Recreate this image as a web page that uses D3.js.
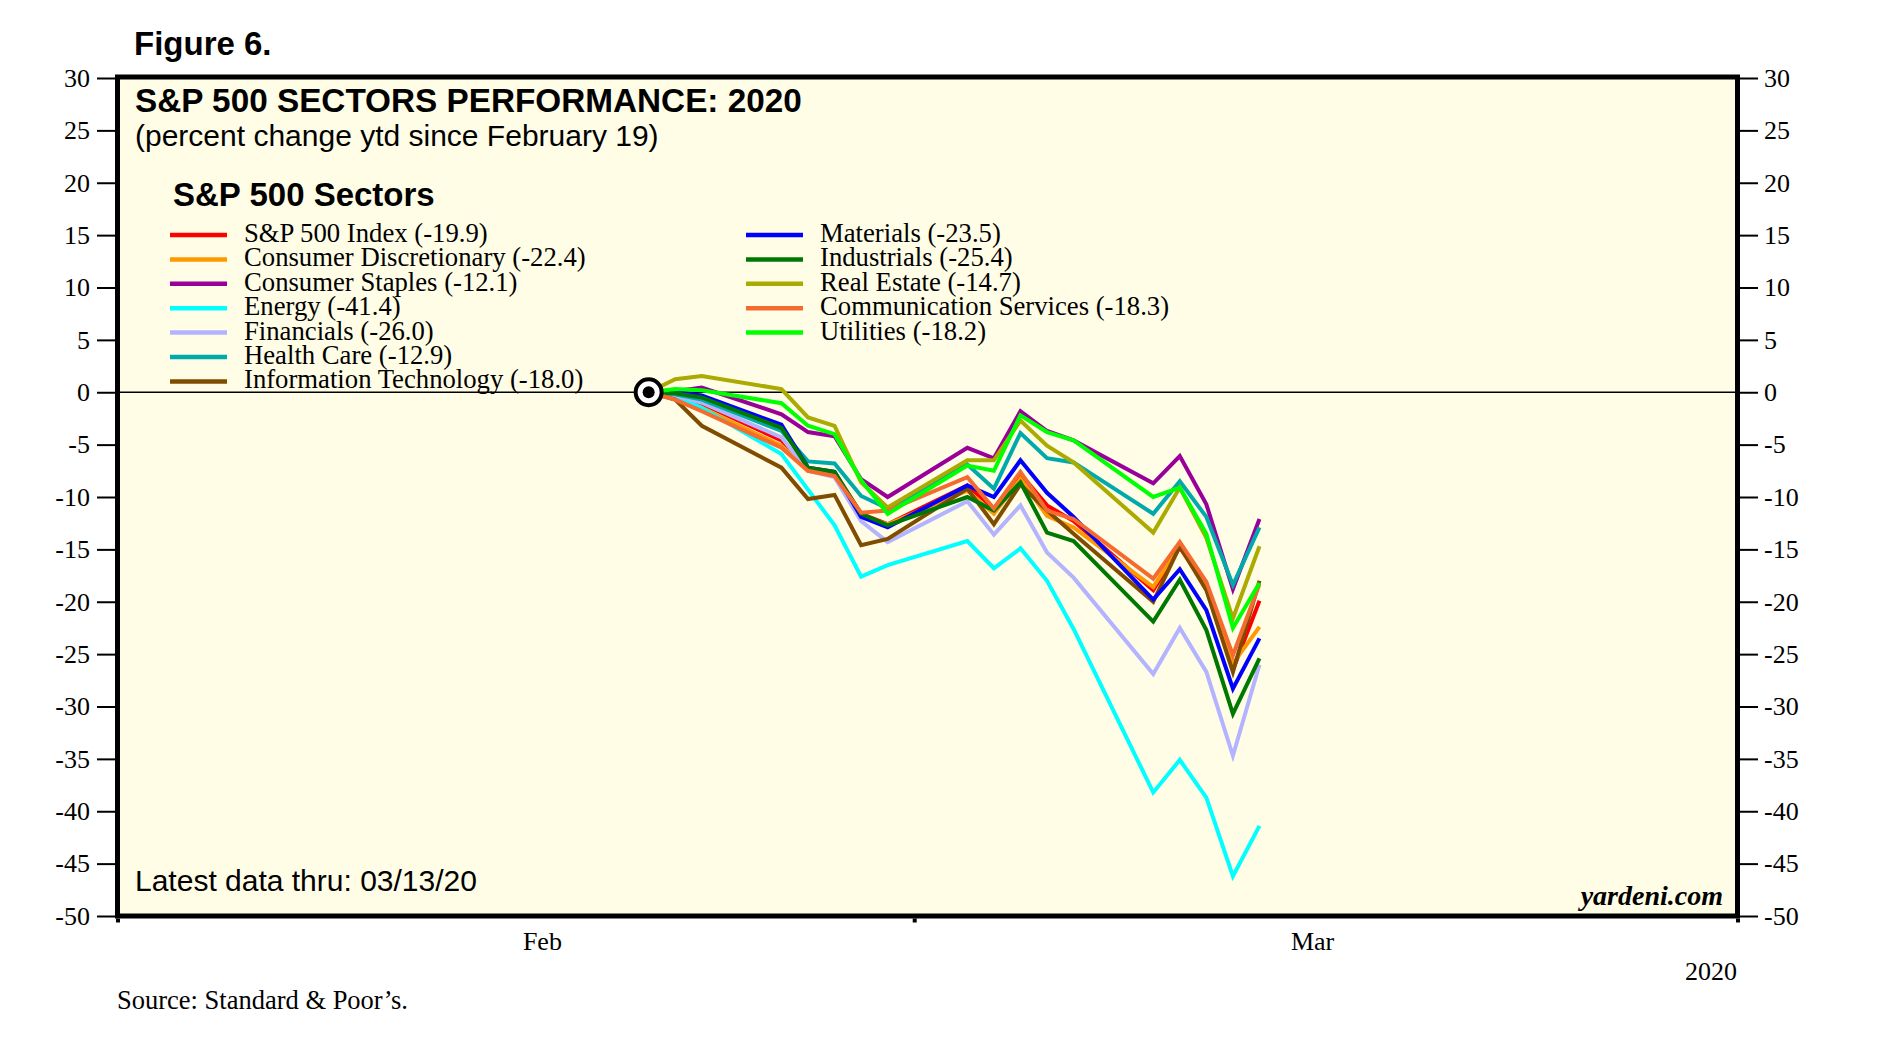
<!DOCTYPE html>
<html>
  <head>
    <meta charset="utf-8">
    <title>S&amp;P 500 Sectors Performance: 2020</title>
    <style>
      body, html{
        margin: 0;
        background: #fff;
      }
      .sans{ font-family: "Liberation Sans", Arial, sans-serif; }
      .serif{ font-family: "Liberation Serif", "Times New Roman", serif; }
    </style>
  </head>
  <body>
    <svg id="chart" width="1886" height="1061"></svg>
    <script src="https://cdn.jsdelivr.net/npm/d3@7"></script>
    <script>

var dates = ['2020-02-19','2020-02-20','2020-02-21','2020-02-24','2020-02-25','2020-02-26',
  '2020-02-27','2020-02-28','2020-03-02','2020-03-03','2020-03-04','2020-03-05','2020-03-06',
  '2020-03-09','2020-03-10','2020-03-11','2020-03-12','2020-03-13']

var sectors = ['S&P 500 Index', 'Consumer Discretionary', 'Consumer Staples', 'Energy',
  'Financials', 'Health Care', 'Information Technology', 'Materials', 'Industrials',
  'Real Estate', 'Communication Services', 'Utilities']

var colors = ['#ff0000', '#ff9900', '#990099', '#00ffff', '#b3b3ff', '#00aaaa',
  '#7f4c00', '#0000ff', '#007700', '#aaaa00', '#f56a2e', '#00ff00']

var spx         = [0, -0.3, -1.1, -4.6, -7.4, -7.7, -11.6, -12.6, -8.9, -11.1, -7.8, -10.8, -12.3, -18.9, -14.8, -18.6, -26.5, -19.9]
var discretion  = [0, -0.6, -1.5, -5.1, -7.5, -7.8, -11.9, -12.6, -9.4, -11.6, -8.3, -11.8, -12.9, -18.6, -14.6, -18.6, -25.9, -22.4]
var staples     = [0, 0.1, 0.45, -2.1, -3.8, -4.2, -8.3, -10.0, -5.3, -6.3, -1.8, -3.7, -4.6, -8.7, -6.1, -10.7, -18.8, -12.1]
var energy      = [0, -0.3, -1.5, -5.9, -9.3, -12.7, -17.6, -16.5, -14.2, -16.8, -14.9, -18.0, -22.6, -38.2, -35.1, -38.7, -46.2, -41.4]
var financials  = [0, -0.3, -1.0, -4.3, -7.5, -8.1, -12.3, -14.3, -10.4, -13.6, -10.8, -15.3, -17.7, -26.9, -22.5, -26.7, -34.7, -26.0]
var health      = [0, -0.2, -0.7, -3.7, -6.6, -6.8, -9.9, -11.1, -6.9, -9.2, -3.9, -6.3, -6.7, -11.6, -8.5, -11.9, -18.4, -12.9]
var tech        = [0, -0.7, -3.2, -7.2, -10.2, -9.8, -14.6, -14.0, -9.2, -12.6, -8.8, -11.3, -13.5, -20.0, -14.7, -18.9, -26.7, -18.0]
var materials   = [0, 0.0, -0.3, -3.1, -7.2, -7.6, -11.9, -12.9, -8.9, -10.0, -6.5, -9.6, -11.9, -19.8, -16.9, -20.8, -28.3, -23.5]
var industrials = [0, -0.1, -0.5, -3.4, -7.2, -7.6, -11.6, -12.7, -10.0, -11.3, -8.6, -13.4, -14.2, -21.9, -17.9, -22.7, -30.7, -25.4]
var realestate  = [0, 1.24, 1.56, 0.3, -2.4, -3.2, -8.6, -11.0, -6.5, -6.5, -2.7, -5.1, -6.7, -13.4, -9.1, -13.9, -21.6, -14.7]
var commserv    = [0, -0.7, -1.8, -5.3, -7.5, -8.0, -11.5, -11.3, -8.1, -11.1, -7.6, -11.3, -12.1, -17.8, -14.3, -18.1, -25.1, -18.3]
var utilities   = [0, 0.3, 0.2, -1.05, -3.2, -4.0, -8.4, -11.6, -7.0, -7.5, -2.2, -3.8, -4.6, -10.0, -9.1, -13.5, -22.5, -18.2]

var series = [spx, discretion, staples, energy, financials, health, tech, materials,
  industrials, realestate, commserv, utilities]

var yTicks = d3.range(-50, 31, 5)
var monthEdges = ['2020-01-30', '2020-02-29', '2020-03-31']
var monthLabels = [['2020-02-15', 'Feb'], ['2020-03-15', 'Mar']]

var parse = d3.timeParse('%Y-%m-%d')
var svg = d3.select('#chart')

// plot box (window.top is reserved, so use own names)
var plotL = 117.5, plotR = 1737.5, plotT = 78, plotB = 916

var x = d3.scaleTime()
  .domain([parse(monthEdges[0]), parse(monthEdges[2])])
  .range([plotL, plotR])
var y = d3.scaleLinear().domain([-50, 30]).range([plotB, plotT])

svg.append('rect').attr('width', 1886).attr('height', 1061).attr('fill', '#fff')

// plot background
svg.append('rect')
  .attr('x', plotL).attr('y', plotT)
  .attr('width', plotR - plotL).attr('height', plotB - plotT)
  .attr('fill', '#fffde6')

// zero line
svg.append('line')
  .attr('x1', plotL).attr('x2', plotR)
  .attr('y1', y(0)).attr('y2', y(0))
  .attr('stroke', '#000').attr('stroke-width', 1.6)

// y axes, left and right; plain hyphen for negatives like the original
var fmt = function(d){ return String(d) }
var yl = svg.append('g').attr('transform', 'translate(' + (plotL - 2.5) + ',0)')
  .call(d3.axisLeft(y).tickValues(yTicks).tickSize(18).tickPadding(7).tickFormat(fmt))
var yr = svg.append('g').attr('transform', 'translate(' + (plotR + 2.5) + ',0)')
  .call(d3.axisRight(y).tickValues(yTicks).tickSize(18).tickPadding(6).tickFormat(fmt))
;[yl, yr].forEach(function(g){
  g.attr('font-family', null).attr('font-size', null)
  g.select('.domain').remove()
  g.selectAll('line').attr('stroke', '#000').attr('stroke-width', 2)
  g.selectAll('text').attr('class', 'serif').attr('font-size', 26).attr('fill', '#000')
})

// x axis: month boundary ticks, month labels centred
var xa = svg.append('g').attr('transform', 'translate(0,' + (plotB + 2.5) + ')')
  .call(d3.axisBottom(x).tickValues(monthEdges.map(parse)).tickSize(4).tickFormat(''))
xa.select('.domain').remove()
xa.selectAll('line').attr('stroke', '#000').attr('stroke-width', 4)

svg.append('g').selectAll('text').data(monthLabels).enter().append('text')
  .attr('class', 'serif').attr('font-size', 26).attr('text-anchor', 'middle')
  .attr('x', function(d){ return x(parse(d[0])) })
  .attr('y', 950)
  .text(function(d){ return d[1] })

svg.append('text').attr('class', 'serif').attr('font-size', 26)
  .attr('text-anchor', 'end').attr('x', 1737).attr('y', 980).text('2020')

// lines
var line = d3.line()
  .x(function(d, i){ return x(parse(dates[i])) })
  .y(function(d){ return y(d) })

svg.append('g').selectAll('path').data(series).enter().append('path')
  .attr('d', line)
  .attr('fill', 'none')
  .attr('stroke', function(d, i){ return colors[i] })
  .attr('stroke-width', 4)
  .attr('stroke-linejoin', 'miter')

// start marker
var start = svg.append('g')
  .attr('transform', 'translate(' + x(parse(dates[0])) + ',' + y(0) + ')')
start.append('circle').attr('r', 13).attr('fill', '#fff').attr('stroke', '#000').attr('stroke-width', 4)
start.append('circle').attr('r', 6).attr('fill', '#000')

// frame
svg.append('rect')
  .attr('x', plotL).attr('y', plotT - 1)
  .attr('width', plotR - plotL).attr('height', plotB - plotT + 1)
  .attr('fill', 'none').attr('stroke', '#000').attr('stroke-width', 5)

// titles
svg.append('text').attr('class', 'sans').attr('font-weight', 'bold').attr('font-size', 33)
  .attr('x', 134).attr('y', 55).text('Figure 6.')
svg.append('text').attr('class', 'sans').attr('font-weight', 'bold').attr('font-size', 33.3)
  .attr('x', 135).attr('y', 112).text('S&P 500 SECTORS PERFORMANCE: 2020')
svg.append('text').attr('class', 'sans').attr('font-size', 30)
  .attr('x', 135).attr('y', 146).text('(percent change ytd since February 19)')
svg.append('text').attr('class', 'sans').attr('font-weight', 'bold').attr('font-size', 33)
  .attr('x', 173).attr('y', 206).text('S&P 500 Sectors')

// legend, two columns
var legend = svg.append('g').selectAll('g').data(sectors).enter().append('g')
  .attr('transform', function(d, i){
    var col = i < 7 ? 0 : 1, row = i < 7 ? i : i - 7
    return 'translate(' + (170 + col * 576) + ',' + (235 + row * 24.4) + ')'
  })
legend.append('line')
  .attr('x1', 0).attr('x2', 57)
  .attr('stroke', function(d, i){ return colors[i] })
  .attr('stroke-width', 4.5)
legend.append('text')
  .attr('class', 'serif').attr('font-size', 26.7)
  .attr('x', 74).attr('y', 7)
  .text(function(d, i){ return d + ' (' + series[i][series[i].length - 1].toFixed(1) + ')' })

svg.append('text').attr('class', 'sans').attr('font-size', 30)
  .attr('x', 135).attr('y', 891).text('Latest data thru: 03/13/20')
svg.append('text').attr('class', 'serif').attr('font-size', 28)
  .attr('font-weight', 'bold').attr('font-style', 'italic')
  .attr('text-anchor', 'end').attr('x', 1723).attr('y', 905).text('yardeni.com')

svg.append('text').attr('class', 'serif').attr('font-size', 26.5)
  .attr('x', 117).attr('y', 1009).text('Source: Standard & Poor\u2019s.')
    </script>
  </body>
</html>
